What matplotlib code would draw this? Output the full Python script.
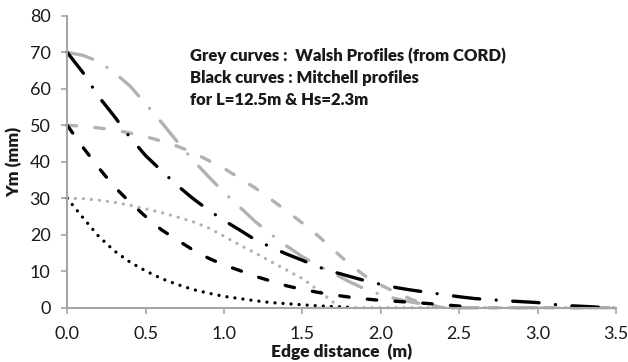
import matplotlib

matplotlib.use("Agg")

import matplotlib.pyplot as plt

# --------------------------------------------------
# Profile data (edge distance in m, Ym in mm)
# --------------------------------------------------
x_mitchell_30 = [0.0, 0.1, 0.2, 0.3, 0.4, 0.5, 0.6, 0.7, 0.8, 0.9, 1.0, 1.1, 1.2,
                 1.3, 1.4, 1.5, 1.6, 1.7, 1.8]
y_mitchell_30 = [30.0, 24.7, 19.6, 15.6, 12.5, 10.1, 8.0, 6.4, 5.0, 4.0, 3.1, 2.5,
                 1.9, 1.4, 1.1, 0.8, 0.5, 0.3, 0.1]

x_mitchell_50 = [0.0, 0.1, 0.2, 0.3, 0.4, 0.5, 0.6, 0.7, 0.8, 0.9, 1.0, 1.1, 1.2,
                 1.3, 1.4, 1.5, 1.6, 1.7, 1.8, 1.9, 2.0, 2.1, 2.2, 2.3, 2.4, 2.5, 2.55]
y_mitchell_50 = [50.0, 44.0, 38.4, 33.2, 28.9, 25.0, 21.4, 18.6, 15.9, 13.6, 11.7,
                 10.2, 8.6, 7.3, 6.0, 5.0, 4.2, 3.5, 2.9, 2.4, 2.0, 1.75, 1.45, 1.15,
                 0.8, 0.45, 0.2]

x_mitchell_70 = [0.0, 0.1, 0.2, 0.3, 0.4, 0.5, 0.6, 0.7, 0.8, 0.9, 1.0, 1.1, 1.2,
                 1.3, 1.4, 1.5, 1.6, 1.7, 1.8, 1.9, 2.0, 2.1, 2.2, 2.3, 2.4, 2.5,
                 2.6, 2.7, 2.8, 2.9, 3.0, 3.1, 3.2, 3.3, 3.45]
y_mitchell_70 = [70.0, 64.5, 57.9, 52.5, 46.7, 41.7, 37.6, 33.6, 30.0, 26.8, 23.9,
                 21.3, 18.6, 16.6, 14.7, 13.0, 11.2, 9.8, 8.6, 7.4, 6.4, 5.5, 4.8,
                 4.2, 3.6, 3.0, 2.5, 2.2, 1.9, 1.65, 1.4, 0.9, 0.55, 0.35, 0.0]

x_walsh_30 = [0.0, 0.1, 0.2, 0.3, 0.4, 0.5, 0.6, 0.7, 0.8, 0.9, 1.0, 1.1, 1.2, 1.3,
              1.4, 1.5, 1.6, 1.7, 1.75, 3.5]
y_walsh_30 = [30.0, 29.9, 29.5, 28.9, 28.1, 27.1, 26.1, 24.9, 23.6, 21.9, 19.6,
              17.2, 15.0, 12.6, 10.3, 8.0, 4.8, 1.4, 0.0, 0.0]

x_walsh_50 = [0.0, 0.1, 0.2, 0.3, 0.4, 0.5, 0.6, 0.7, 0.8, 0.9, 1.0, 1.1, 1.2, 1.3,
              1.4, 1.5, 1.6, 1.7, 1.8, 1.9, 2.0, 2.1, 2.2, 2.3, 2.4, 3.5]
y_walsh_50 = [50.0, 49.8, 49.3, 48.7, 47.9, 46.9, 45.7, 44.3, 42.6, 40.4, 38.2,
              35.5, 32.8, 29.7, 26.5, 23.2, 19.7, 15.8, 11.9, 8.7, 6.2, 4.1, 2.2,
              0.8, 0.0, 0.0]

x_walsh_70 = [0.0, 0.1, 0.2, 0.3, 0.4, 0.5, 0.6, 0.7, 0.8, 0.9, 1.0, 1.1, 1.2, 1.3,
              1.4, 1.5, 1.6, 1.7, 1.8, 1.9, 2.0, 2.1, 2.2, 2.3, 2.4, 2.45, 3.5]
y_walsh_70 = [70.0, 69.2, 67.5, 64.5, 60.8, 55.9, 50.9, 45.6, 40.6, 36.0, 31.6,
              27.6, 23.6, 20.1, 16.9, 14.0, 11.5, 9.4, 7.1, 5.1, 3.6, 2.4, 1.5,
              0.8, 0.3, 0.0, 0.0]

x_ticks = [0.0, 0.5, 1.0, 1.5, 2.0, 2.5, 3.0, 3.5]
y_ticks = [0, 10, 20, 30, 40, 50, 60, 70, 80]

note_lines = [
    "Grey curves :  Walsh Profiles (from CORD)",
    "Black curves : Mitchell profiles",
    "for L=12.5m & Hs=2.3m",
]

# --------------------------------------------------
# Styles
# --------------------------------------------------
BLACK = "#000000"
GREY = "#b2b2b2"
AXIS_GREY = "#a6a6a6"
TEXT = "#1a1a1a"
LW = 2.4

DOTTED = (0, (0.01, 5.8))
DASHED = (0, (6.8, 13.2))
DASHDOT = (0, (19.0, 11.9, 0.01, 11.9))

plt.rcParams["font.family"] = ["Lato", "DejaVu Sans"]
plt.rcParams["lines.scale_dashes"] = False

fig = plt.figure(figsize=(6.28, 3.62), dpi=100)
ax = fig.add_axes([0.107, 0.15, 0.874, 0.806])

curves = [
    (x_walsh_30, y_walsh_30, GREY, DOTTED),
    (x_walsh_50, y_walsh_50, GREY, DASHED),
    (x_walsh_70, y_walsh_70, GREY, DASHDOT),
    (x_mitchell_30, y_mitchell_30, BLACK, DOTTED),
    (x_mitchell_50, y_mitchell_50, BLACK, DASHED),
    (x_mitchell_70, y_mitchell_70, BLACK, DASHDOT),
]
for xs, ys, color, style in curves:
    ax.plot(xs, ys, color=color, lw=LW, linestyle=style,
            dash_capstyle="round", solid_capstyle="round", clip_on=False)

ax.set_xlim(0, 3.5)
ax.set_ylim(0, 80)
ax.set_xticks(x_ticks)
ax.set_xticklabels([f"{v:.1f}" for v in x_ticks])
ax.set_yticks(y_ticks)

for side in ("top", "right"):
    ax.spines[side].set_visible(False)
for side in ("left", "bottom"):
    ax.spines[side].set_color(AXIS_GREY)
    ax.spines[side].set_linewidth(1.5)

ax.tick_params(axis="both", direction="out", length=4, width=1.2,
               color=AXIS_GREY, labelsize=13, labelcolor=TEXT)
ax.tick_params(axis="y", pad=8)
ax.tick_params(axis="x", pad=9)

ax.set_xlabel("Edge distance  (m)", fontsize=12.5, fontweight="heavy",
              color=TEXT, labelpad=1)
ax.set_ylabel("Ym (mm)", fontsize=12.5, fontweight="heavy",
              color=TEXT, labelpad=5)

for i, line in enumerate(note_lines):
    ax.text(0.78, 69.2 - i * 6.1, line, fontsize=12, fontweight="heavy",
            color=TEXT, va="center", ha="left")

fig.savefig("out.png", dpi=100)
